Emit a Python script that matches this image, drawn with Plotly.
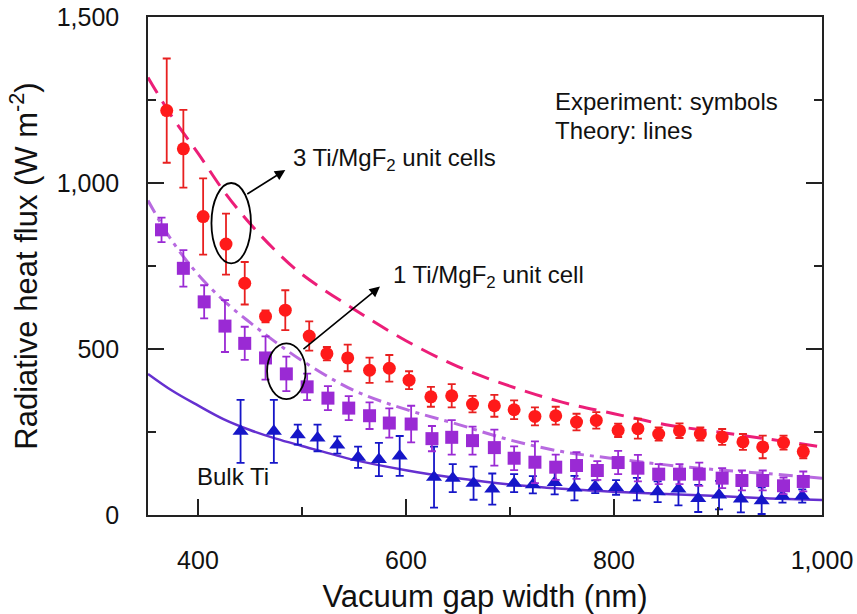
import plotly.graph_objects as go

# ---- measured heat flux (symbols) ----
gap_3cell = [370, 386, 405, 427, 445, 465, 484, 507, 524, 544, 565, 584, 603, 624, 644, 664,
             685, 704, 724, 744, 764, 783, 804, 823, 843, 863, 883, 904, 924, 943, 963, 982]
flux_3cell = [1218, 1103, 899, 816, 698, 598, 617, 539, 486, 473, 436, 442, 406, 356, 359, 334,
              329, 317, 297, 299, 280, 285, 255, 260, 244, 254, 244, 235, 220, 205, 218, 191]
err_3cell = [157, 117, 115, 92, 64, 18, 60, 44, 20, 40, 38, 40, 27, 30, 35, 25,
             33, 28, 27, 27, 25, 25, 20, 30, 20, 22, 20, 24, 24, 34, 21, 20]

gap_1cell = [365, 386, 406, 426, 445, 465, 485, 505, 525, 545, 565, 584, 605, 625, 644, 664,
             685, 704, 724, 744, 764, 784, 804, 823, 843, 863, 882, 904, 923, 943, 963, 982]
flux_1cell = [859, 743, 642, 569, 517, 473, 425, 386, 352, 322, 299, 277, 274, 230, 234, 224,
              203, 171, 159, 144, 149, 134, 158, 141, 123, 123, 123, 111, 104, 104, 88, 101]
err_1cell = [37, 55, 50, 78, 50, 65, 52, 40, 36, 36, 40, 44, 55, 38, 52, 42,
             54, 36, 63, 38, 40, 28, 35, 40, 30, 30, 35, 30, 30, 30, 25, 30]

gap_bulk = [441, 473, 496, 515, 534, 554, 574, 594, 627, 645, 665, 683, 704, 722,
            743, 762, 782, 802, 822, 842, 862, 881, 901, 922, 942, 962, 981]
flux_bulk = [252, 252, 242, 232, 211, 174, 167, 178, 114, 111, 96, 78, 96, 91,
             98, 81, 85, 83, 78, 70, 78, 50, 60, 48, 43, 57, 57]
err_bulk = [95, 95, 30, 40, 26, 32, 50, 60, 92, 42, 50, 47, 27, 26,
            36, 37, 19, 22, 34, 31, 49, 41, 43, 40, 40, 20, 20]

# ---- calculated heat flux (lines) ----
gap_theory = [352, 375, 400, 425, 450, 475, 500, 550, 600, 650, 700, 750, 800, 850, 900, 950, 1000]
theory_3cell = [1318, 1200, 1090, 975, 878, 795, 725, 620, 525, 447, 388, 340, 305, 272, 250, 228, 205]
theory_1cell = [947, 826, 725, 645, 580, 520, 465, 375, 318, 273, 226, 191, 170, 151, 136, 124, 111]
theory_bulk = [425, 375, 330, 288, 256, 230, 208, 166, 135, 111, 92, 79, 70, 63, 57, 50, 45]

FONT = "Liberation Sans, Arial, Helvetica, sans-serif"
RED = "#ff1a1a"
PINK = "#ec1e78"
VIOLET = "#9a2ad4"
ORCHID = "#b86ae0"
BLUE = "#1616c8"
INDIGO = "#6530d0"

fig = go.Figure()

# theory curves
fig.add_trace(go.Scatter(x=gap_theory, y=theory_3cell, mode="lines", line_shape="spline",
                         line=dict(color=PINK, width=3, dash="18px,10px")))
fig.add_trace(go.Scatter(x=gap_theory, y=theory_1cell, mode="lines", line_shape="spline",
                         line=dict(color=ORCHID, width=3, dash="14px,6px,4px,6px")))
fig.add_trace(go.Scatter(x=gap_theory, y=theory_bulk, mode="lines", line_shape="spline",
                         line=dict(color=INDIGO, width=2.5)))

# experimental points
fig.add_trace(go.Scatter(x=gap_bulk, y=flux_bulk, mode="markers",
                         marker=dict(symbol="triangle-up", size=14, color=BLUE),
                         error_y=dict(type="data", array=err_bulk, color=BLUE, thickness=1.8, width=4)))
fig.add_trace(go.Scatter(x=gap_1cell, y=flux_1cell, mode="markers",
                         marker=dict(symbol="square", size=13, color=VIOLET),
                         error_y=dict(type="data", array=err_1cell, color=VIOLET, thickness=1.8, width=4)))
fig.add_trace(go.Scatter(x=gap_3cell, y=flux_3cell, mode="markers",
                         marker=dict(symbol="circle", size=13, color=RED),
                         error_y=dict(type="data", array=err_3cell, color="#e82020", thickness=1.8, width=4)))

# ellipses highlighting one point of each multilayer series
i3 = 3
cx3, cy3 = gap_3cell[i3] + 5, flux_3cell[i3] + 63
fig.add_shape(type="circle", xref="x", yref="y",
              x0=cx3 - 19, x1=cx3 + 19, y0=cy3 - 121, y1=cy3 + 121,
              line=dict(color="black", width=1.8))
i1 = 6
cx1, cy1 = gap_1cell[i1], flux_1cell[i1] + 8
fig.add_shape(type="circle", xref="x", yref="y",
              x0=cx1 - 18.5, x1=cx1 + 18.5, y0=cy1 - 84, y1=cy1 + 84,
              line=dict(color="black", width=1.8))

# arrows from the ellipses to their labels
fig.add_annotation(x=cx3 + 52, y=cy3 + 160, ax=cx3 + 14, ay=cy3 + 85,
                   xref="x", yref="y", axref="x", ayref="y", text="",
                   showarrow=True, arrowhead=2, arrowsize=1.3, arrowwidth=1.6, arrowcolor="black")
fig.add_annotation(x=cx1 + 90, y=cy1 + 255, ax=cx1 + 15, ay=cy1 + 63,
                   xref="x", yref="y", axref="x", ayref="y", text="",
                   showarrow=True, arrowhead=2, arrowsize=1.3, arrowwidth=1.6, arrowcolor="black")

labels = [
    (489, 1072, "3 Ti/MgF<sub>2</sub> unit cells"),
    (586, 719, "1 Ti/MgF<sub>2</sub> unit cell"),
    (741, 1245, "Experiment: symbols"),
    (741, 1157, "Theory: lines"),
    (397, 115, "Bulk Ti"),
]
for lx, ly, txt in labels:
    fig.add_annotation(x=lx, y=ly, xref="x", yref="y", text=txt, showarrow=False,
                       xanchor="left", yanchor="middle",
                       font=dict(family=FONT, size=24, color="#111111"))

axis_common = dict(
    showline=True, linecolor="#222222", linewidth=1.6,
    ticks="inside", ticklen=16, tickwidth=1.5, tickcolor="#222222",
    showgrid=False, zeroline=False, tickformat=",", automargin=False,
    tickfont=dict(family=FONT, size=25, color="#111111"),
)

fig.update_layout(
    width=857, height=614,
    margin=dict(l=148, r=35, t=17, b=99, autoexpand=False),
    paper_bgcolor="white", plot_bgcolor="white",
    showlegend=False,
    font=dict(family=FONT),
    xaxis=dict(
        range=[352, 1000], tickvals=[400, 600, 800, 1000], mirror=True,
        minor=dict(tickvals=[500, 700, 900], ticks="inside", ticklen=8,
                   tickwidth=1.5, tickcolor="#222222"),
        ticklabelstandoff=22,
        title=dict(text="Vacuum gap width (nm)", standoff=16,
                   font=dict(family=FONT, size=31, color="#111111")),
        **axis_common,
    ),
    yaxis=dict(
        range=[0, 1500], tickvals=[0, 500, 1000, 1500], mirror="ticks",
        minor=dict(tickvals=[250, 750, 1250], ticks="inside", ticklen=8,
                   tickwidth=1.5, tickcolor="#222222"),
        ticklabelstandoff=22,
        title=dict(text="Radiative heat flux (W m<sup>-2</sup>)", standoff=10,
                   font=dict(family=FONT, size=31, color="#111111")),
        **axis_common,
    ),
)

fig.write_html("out.html")
